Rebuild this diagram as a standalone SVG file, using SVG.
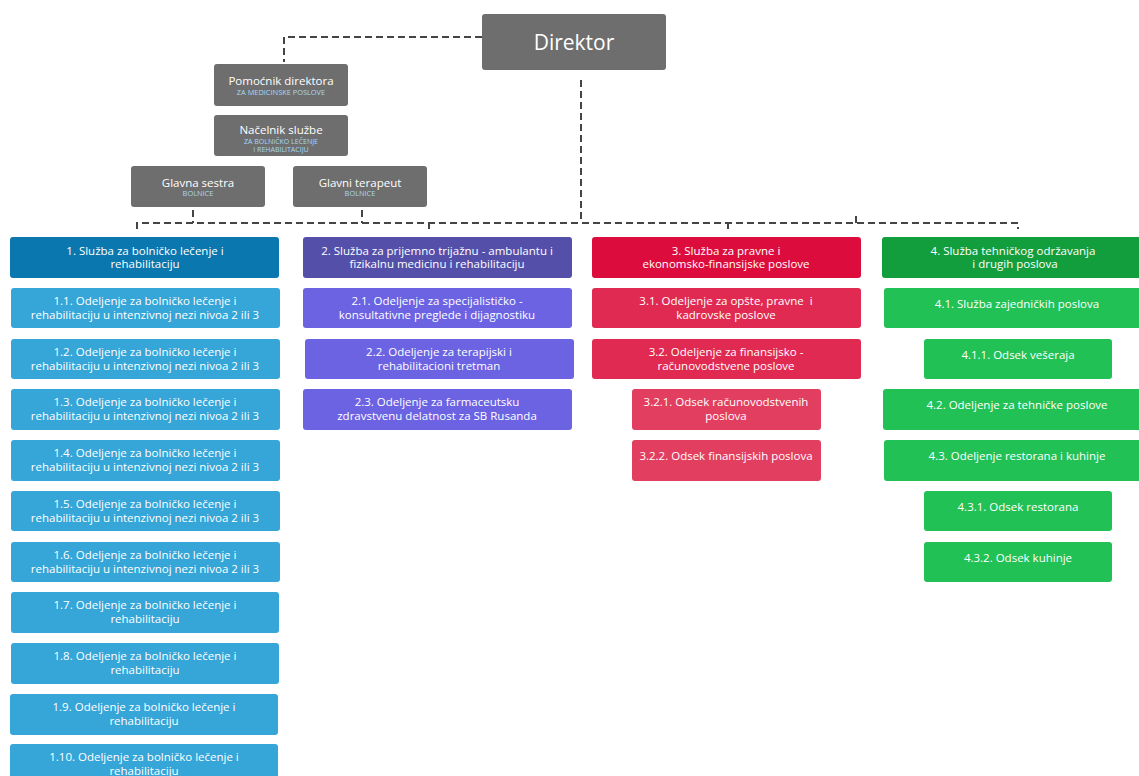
<svg xmlns="http://www.w3.org/2000/svg" width="1139" height="776" viewBox="0 0 1139 776">
<style>
.t{font-family:"Open Sans","Noto Sans",sans-serif;fill:#fff;text-anchor:middle;font-size:11.5px}
.g{fill:#6e6e6e}
.s{font-family:"Open Sans","Noto Sans",sans-serif;fill:#a9d8f2;text-anchor:middle;font-size:7.4px}
.c1h{fill:#0a77ae}.c1{fill:#36a5d8}
.c2h{fill:#5450aa}.c2{fill:#6b63e2}
.c3h{fill:#dc0d3d}.c3{fill:#e02a51}.c3s{fill:#e23e5f}
.c4h{fill:#139e3d}.c4{fill:#22c156}
.d{fill:none;stroke:#454545;stroke-width:2;stroke-dasharray:7 4}
</style>
<rect width="1139" height="776" fill="#fff"/>
<g id="connectors">
<path class="d" d="M482 37H284V62"/>
<path class="d" d="M581 80V223"/>
<path class="d" d="M137 229V223H1018V229"/>
<path class="d" d="M193 210V223M362 210V223M429 223V229M728 223V229M856 223V216"/>
</g>
<g id="direktor"><rect class="g" x="482" y="14" width="184" height="56" rx="3"/><text class="t" x="574" y="50" style="font-size:21px">Direktor</text></g>
<g id="pomocnik"><rect class="g" x="214" y="64" width="134" height="42" rx="3"/><text class="t" x="281" y="85">Pomoćnik direktora</text><text class="s" x="281" y="95">ZA MEDICINSKE POSLOVE</text></g>
<g id="nacelnik"><rect class="g" x="214" y="115" width="134" height="41" rx="3"/><text class="t" x="281" y="134">Načelnik službe</text><text class="s" x="281" y="144" style="font-size:7px">ZA BOLNIČKO LEČENJE</text><text class="s" x="281" y="152" style="font-size:7px">I REHABILITACIJU</text></g>
<g id="glavna-sestra"><rect class="g" x="131" y="166" width="134" height="41" rx="3"/><text class="t" x="198" y="187">Glavna sestra</text><text class="s" x="198" y="196">BOLNICE</text></g>
<g id="glavni-terapeut"><rect class="g" x="293" y="166" width="134" height="41" rx="3"/><text class="t" x="360" y="187">Glavni terapeut</text><text class="s" x="360" y="196">BOLNICE</text></g>

<g id="s1"><rect class="c1h" x="10" y="237" width="269" height="41" rx="3"/><text class="t" x="145" y="255">1. Služba za bolničko lečenje i</text><text class="t" x="145" y="268">rehabilitaciju</text></g>
<g id="s1-1"><rect class="c1" x="11" y="288" width="269" height="40" rx="3"/><text class="t" x="145" y="305">1.1. Odeljenje za bolničko lečenje i</text><text class="t" x="145" y="319">rehabilitaciju u intenzivnoj nezi nivoa 2 ili 3</text></g>
<g id="s1-2"><rect class="c1" x="11" y="339" width="269" height="40" rx="3"/><text class="t" x="145" y="356">1.2. Odeljenje za bolničko lečenje i</text><text class="t" x="145" y="370">rehabilitaciju u intenzivnoj nezi nivoa 2 ili 3</text></g>
<g id="s1-3"><rect class="c1" x="11" y="389" width="269" height="41" rx="3"/><text class="t" x="145" y="406">1.3. Odeljenje za bolničko lečenje i</text><text class="t" x="145" y="420">rehabilitaciju u intenzivnoj nezi nivoa 2 ili 3</text></g>
<g id="s1-4"><rect class="c1" x="11" y="440" width="269" height="41" rx="3"/><text class="t" x="145" y="457">1.4. Odeljenje za bolničko lečenje i</text><text class="t" x="145" y="471">rehabilitaciju u intenzivnoj nezi nivoa 2 ili 3</text></g>
<g id="s1-5"><rect class="c1" x="11" y="491" width="269" height="40" rx="3"/><text class="t" x="145" y="508">1.5. Odeljenje za bolničko lečenje i</text><text class="t" x="145" y="522">rehabilitaciju u intenzivnoj nezi nivoa 2 ili 3</text></g>
<g id="s1-6"><rect class="c1" x="11" y="542" width="269" height="40" rx="3"/><text class="t" x="145" y="559">1.6. Odeljenje za bolničko lečenje i</text><text class="t" x="145" y="573">rehabilitaciju u intenzivnoj nezi nivoa 2 ili 3</text></g>
<g id="s1-7"><rect class="c1" x="11" y="592" width="268" height="41" rx="3"/><text class="t" x="145" y="609">1.7. Odeljenje za bolničko lečenje i</text><text class="t" x="145" y="623">rehabilitaciju</text></g>
<g id="s1-8"><rect class="c1" x="11" y="643" width="268" height="41" rx="3"/><text class="t" x="145" y="660">1.8. Odeljenje za bolničko lečenje i</text><text class="t" x="145" y="674">rehabilitaciju</text></g>
<g id="s1-9"><rect class="c1" x="10" y="694" width="268" height="41" rx="3"/><text class="t" x="144" y="711">1.9. Odeljenje za bolničko lečenje i</text><text class="t" x="144" y="725">rehabilitaciju</text></g>
<g id="s1-10"><rect class="c1" x="10" y="744" width="268" height="41" rx="3"/><text class="t" x="144" y="761">1.10. Odeljenje za bolničko lečenje i</text><text class="t" x="144" y="775">rehabilitaciju</text></g>

<g id="s2"><rect class="c2h" x="303" y="237" width="269" height="41" rx="3"/><text class="t" x="437" y="255">2. Služba za prijemno trijažnu - ambulantu i</text><text class="t" x="437" y="268">fizikalnu medicinu i rehabilitaciju</text></g>
<g id="s2-1"><rect class="c2" x="303" y="288" width="269" height="40" rx="3"/><text class="t" x="437" y="305">2.1. Odeljenje za specijalističko -</text><text class="t" x="437" y="319">konsultativne preglede i dijagnostiku</text></g>
<g id="s2-2"><rect class="c2" x="305" y="339" width="269" height="40" rx="3"/><text class="t" x="439" y="356">2.2. Odeljenje za terapijski i</text><text class="t" x="439" y="370">rehabilitacioni tretman</text></g>
<g id="s2-3"><rect class="c2" x="303" y="389" width="269" height="41" rx="3"/><text class="t" x="437" y="406">2.3. Odeljenje za farmaceutsku</text><text class="t" x="437" y="420">zdravstvenu delatnost za SB Rusanda</text></g>

<g id="s3"><rect class="c3h" x="592" y="237" width="269" height="41" rx="3"/><text class="t" x="726" y="255">3. Služba za pravne i</text><text class="t" x="726" y="268">ekonomsko-finansijske poslove</text></g>
<g id="s3-1"><rect class="c3" x="592" y="288" width="269" height="40" rx="3"/><text class="t" x="726" y="305">3.1. Odeljenje za opšte, pravne&#160; i</text><text class="t" x="726" y="319">kadrovske poslove</text></g>
<g id="s3-2"><rect class="c3" x="592" y="339" width="269" height="40" rx="3"/><text class="t" x="726" y="356">3.2. Odeljenje za finansijsko -</text><text class="t" x="726" y="370">računovodstvene poslove</text></g>
<g id="s3-2-1"><rect class="c3s" x="632" y="389" width="189" height="41" rx="3"/><text class="t" x="726" y="406">3.2.1. Odsek računovodstvenih</text><text class="t" x="726" y="420">poslova</text></g>
<g id="s3-2-2"><rect class="c3s" x="632" y="440" width="189" height="41" rx="3"/><text class="t" x="726" y="460">3.2.2. Odsek finansijskih poslova</text></g>

<g id="s4"><rect class="c4h" x="882" y="237" width="268" height="41" rx="3"/><text class="t" x="1013" y="255">4. Služba tehničkog održavanja</text><text class="t" x="1015" y="268">i drugih poslova</text></g>
<g id="s4-1"><rect class="c4" x="884" y="288" width="268" height="40" rx="3"/><text class="t" x="1017" y="308">4.1. Služba zajedničkih poslova</text></g>
<g id="s4-1-1"><rect class="c4" x="924" y="339" width="188" height="40" rx="3"/><text class="t" x="1018" y="359">4.1.1. Odsek vešeraja</text></g>
<g id="s4-2"><rect class="c4" x="883" y="389" width="268" height="41" rx="3"/><text class="t" x="1017" y="409">4.2. Odeljenje za tehničke poslove</text></g>
<g id="s4-3"><rect class="c4" x="884" y="440" width="268" height="41" rx="3"/><text class="t" x="1017" y="460">4.3. Odeljenje restorana i kuhinje</text></g>
<g id="s4-3-1"><rect class="c4" x="924" y="491" width="188" height="40" rx="3"/><text class="t" x="1018" y="511">4.3.1. Odsek restorana</text></g>
<g id="s4-3-2"><rect class="c4" x="924" y="542" width="188" height="40" rx="3"/><text class="t" x="1018" y="562">4.3.2. Odsek kuhinje</text></g>
</svg>
